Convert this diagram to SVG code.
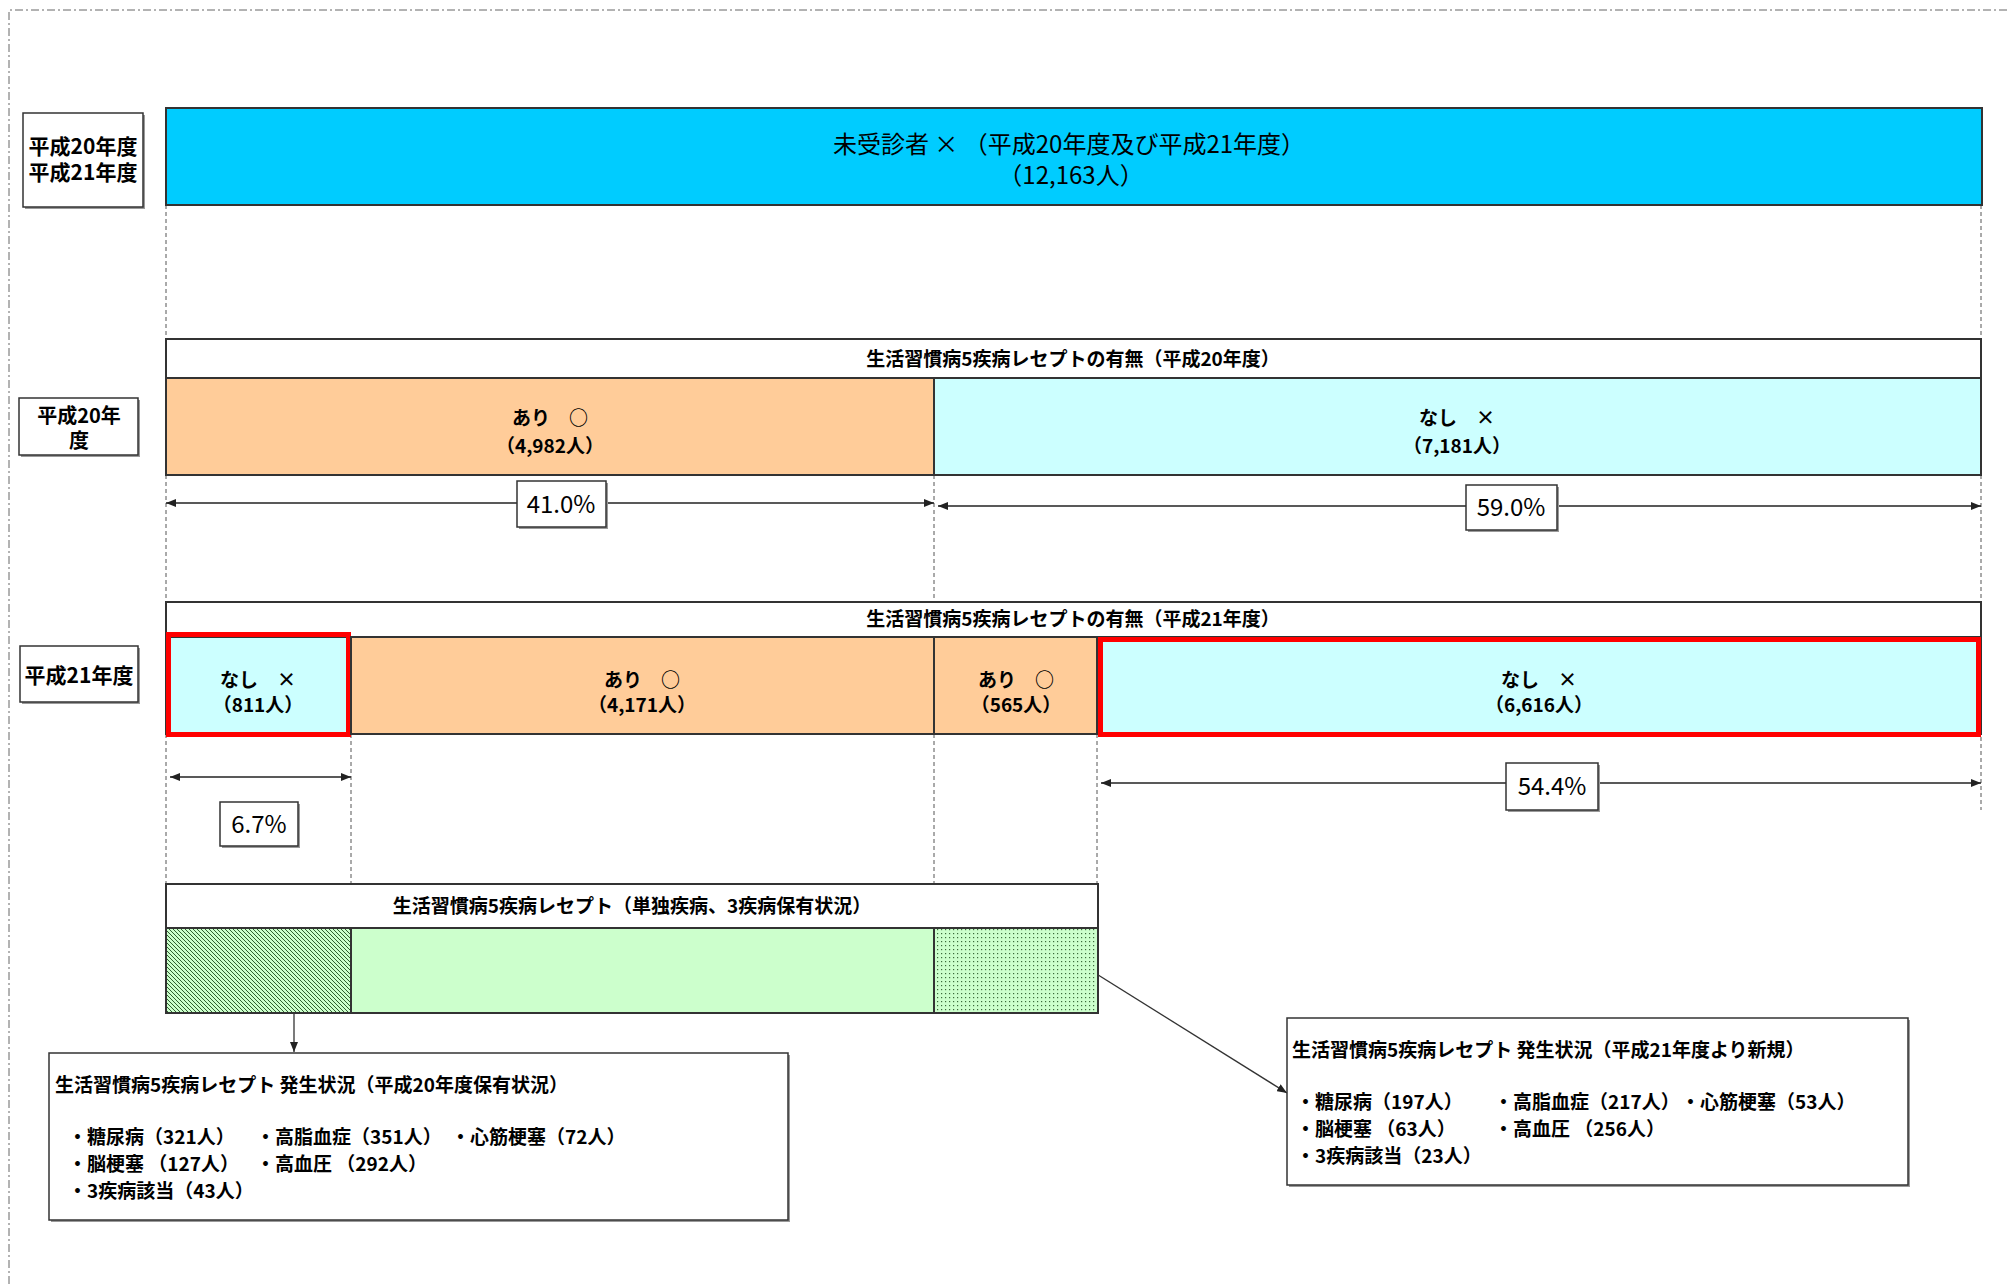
<svg xmlns="http://www.w3.org/2000/svg" width="2008" height="1284" viewBox="0 0 2008 1284">
<defs>
<style>
.t{font-family:"Noto Sans CJK JP","Noto Sans CJK SC",sans-serif;fill:#000}
.b{font-weight:700}
.c{text-anchor:middle}
.bar{stroke:#333;stroke-width:2}
.box{fill:#fff;stroke:#333;stroke-width:1.5}
.sh{fill:#9a9a9a}
.guide{stroke:#555;stroke-width:1;stroke-dasharray:4 3;fill:none}
.dim{stroke:#222;stroke-width:1.5;fill:none;marker-start:url(#ah);marker-end:url(#ah)}
.lead{stroke:#333;stroke-width:1.3;fill:none;marker-end:url(#ah)}
.red{fill:none;stroke:#FF0000;stroke-width:5}
.pct{font-family:"Noto Sans CJK JP","Liberation Sans",sans-serif;font-size:24px;text-anchor:middle}
</style>
<marker id="ah" viewBox="0 0 10 8" refX="10" refY="4" markerWidth="10" markerHeight="8" markerUnits="userSpaceOnUse" orient="auto-start-reverse">
<path d="M0,0 L10,4 L0,8 z" fill="#222"/>
</marker>
<pattern id="hatch" patternUnits="userSpaceOnUse" width="4" height="4">
<rect width="4" height="4" fill="#CCFFCC"/>
<path d="M-1,-1 L5,5 M-1,3 L1,5 M3,-1 L5,1" stroke="#2f5f2f" stroke-width="1"/>
</pattern>
<pattern id="dots" patternUnits="userSpaceOnUse" width="4" height="4">
<rect width="4" height="4" fill="#CCFFCC"/>
<rect x="1" y="1" width="1.2" height="1.2" fill="#3a6a3a"/>
</pattern>
</defs>
<rect width="2008" height="1284" fill="#fff"/>
<path d="M9,1284 L9,10 L2008,10" fill="none" stroke="#666" stroke-width="1" stroke-dasharray="8 3 2 3"/>

<g id="connectors">
<path class="guide" d="M166,205 V339 M1981,205 V339 M166,475 V602 M934,475 V602 M1981,475 V602 M166,734 V884 M351,734 V884 M934,734 V884 M1097,734 V884 M1981,737 V810"/>
<line class="dim" x1="166" y1="503" x2="934" y2="503"/>
<line class="dim" x1="938" y1="506" x2="1981" y2="506"/>
<line class="dim" x1="170" y1="777" x2="351" y2="777"/>
<line class="dim" x1="1101" y1="783" x2="1981" y2="783"/>
<line class="lead" x1="294" y1="967" x2="294" y2="1052"/>
<line class="lead" x1="1071" y1="958" x2="1287" y2="1093"/>
</g>

<g id="label-h20h21">
<rect class="sh" x="25" y="115" width="120" height="94"/>
<rect class="box" x="23" y="113" width="120" height="94"/>
<text class="t b c" font-size="21"><tspan x="83" y="154">平成20年度</tspan><tspan x="83" y="180">平成21年度</tspan></text>
</g>

<g id="unexamined">
<rect class="bar" x="166" y="108" width="1816" height="97" fill="#00CCFF"/>
<text class="t c" font-size="24"><tspan x="1069" y="153">未受診者 × （平成20年度及び平成21年度）</tspan><tspan x="1071" y="184">（12,163人）</tspan></text>
</g>

<g id="label-h20">
<rect class="sh" x="21" y="400" width="119" height="57"/>
<rect class="box" x="19" y="398" width="119" height="57"/>
<text class="t b c" font-size="20"><tspan x="79" y="423">平成20年</tspan><tspan x="79" y="448">度</tspan></text>
</g>

<g id="header-h20">
<rect class="bar" x="166" y="339" width="1815" height="39" fill="#fff"/>
<text class="t b c" x="1073" y="366" font-size="19">生活習慣病5疾病レセプトの有無（平成20年度）</text>
</g>

<g id="h20-ari">
<rect class="bar" x="166" y="378" width="768" height="97" fill="#FFCC99"/>
<text class="t b c" font-size="19"><tspan x="550" y="425">あり　○</tspan><tspan x="550" y="453">（4,982人）</tspan></text>
</g>

<g id="h20-nashi">
<rect class="bar" x="934" y="378" width="1047" height="97" fill="#CCFFFF"/>
<text class="t b c" font-size="19"><tspan x="1457" y="425">なし　×</tspan><tspan x="1457" y="453">（7,181人）</tspan></text>
</g>

<g id="pct-41">
<rect class="sh" x="519" y="483" width="89" height="46"/>
<rect class="box" x="517" y="481" width="89" height="46"/>
<text class="t pct" x="561" y="513">41.0%</text>
</g>

<g id="pct-59">
<rect class="sh" x="1468" y="487" width="91" height="45"/>
<rect class="box" x="1466" y="485" width="91" height="45"/>
<text class="t pct" x="1511" y="516">59.0%</text>
</g>

<g id="label-h21">
<rect class="sh" x="22" y="648" width="118" height="56"/>
<rect class="box" x="20" y="646" width="118" height="56"/>
<text class="t b c" x="79" y="683" font-size="21">平成21年度</text>
</g>

<g id="header-h21">
<rect class="bar" x="166" y="602" width="1815" height="35" fill="#fff"/>
<text class="t b c" x="1073" y="626" font-size="19">生活習慣病5疾病レセプトの有無（平成21年度）</text>
</g>

<g id="h21-nashi-811">
<rect class="bar" x="166" y="637" width="185" height="97" fill="#CCFFFF"/>
<text class="t b c" font-size="19"><tspan x="258" y="687">なし　×</tspan><tspan x="258" y="712">（811人）</tspan></text>
<rect class="red" x="168.5" y="634.5" width="180" height="100"/>
</g>

<g id="h21-ari-4171">
<rect class="bar" x="351" y="637" width="583" height="97" fill="#FFCC99"/>
<text class="t b c" font-size="19"><tspan x="642" y="687">あり　○</tspan><tspan x="642" y="712">（4,171人）</tspan></text>
</g>

<g id="h21-ari-565">
<rect class="bar" x="934" y="637" width="163" height="97" fill="#FFCC99"/>
<text class="t b c" font-size="19"><tspan x="1016" y="687">あり　○</tspan><tspan x="1016" y="712">（565人）</tspan></text>
</g>

<g id="h21-nashi-6616">
<rect class="bar" x="1097" y="637" width="884" height="97" fill="#CCFFFF"/>
<text class="t b c" font-size="19"><tspan x="1539" y="687">なし　×</tspan><tspan x="1539" y="712">（6,616人）</tspan></text>
<rect class="red" x="1100.5" y="639.5" width="878" height="95"/>
</g>

<g id="pct-6-7">
<rect class="sh" x="222" y="804" width="78" height="44"/>
<rect class="box" x="220" y="802" width="78" height="44"/>
<text class="t pct" x="259" y="833">6.7%</text>
</g>

<g id="pct-54-4">
<rect class="sh" x="1508" y="765" width="92" height="47"/>
<rect class="box" x="1506" y="763" width="92" height="47"/>
<text class="t pct" x="1552" y="795">54.4%</text>
</g>

<g id="header-disease">
<rect class="bar" x="166" y="884" width="932" height="44" fill="#fff"/>
<text class="t b c" x="632" y="913" font-size="19">生活習慣病5疾病レセプト（単独疾病、3疾病保有状況）</text>
</g>

<g id="disease-hatched">
<rect class="bar" x="166" y="928" width="185" height="85" fill="url(#hatch)"/>
</g>
<g id="disease-plain">
<rect class="bar" x="351" y="928" width="583" height="85" fill="#CCFFCC"/>
</g>
<g id="disease-dotted">
<rect class="bar" x="934" y="928" width="164" height="85" fill="url(#dots)"/>
</g>

<g id="box-h20-status">
<rect class="sh" x="51" y="1055" width="739" height="167"/>
<rect class="box" x="49" y="1053" width="739" height="167"/>
<text class="t b" font-size="19"><tspan x="55" y="1092">生活習慣病5疾病レセプト 発生状況（平成20年度保有状況）</tspan><tspan x="68" y="1144">・糖尿病（321人）</tspan><tspan x="256" y="1144">・高脂血症（351人）</tspan><tspan x="451" y="1144">・心筋梗塞（72人）</tspan><tspan x="68" y="1171">・脳梗塞 （127人）</tspan><tspan x="256" y="1171">・高血圧 （292人）</tspan><tspan x="68" y="1198">・3疾病該当（43人）</tspan></text>
</g>

<g id="box-h21-new">
<rect class="sh" x="1289" y="1020" width="621" height="167"/>
<rect class="box" x="1287" y="1018" width="621" height="167"/>
<text class="t b" font-size="19"><tspan x="1292" y="1057">生活習慣病5疾病レセプト 発生状況（平成21年度より新規）</tspan><tspan x="1296" y="1109">・糖尿病（197人）</tspan><tspan x="1494" y="1109">・高脂血症（217人）</tspan><tspan x="1681" y="1109">・心筋梗塞（53人）</tspan><tspan x="1296" y="1136">・脳梗塞 （63人）</tspan><tspan x="1494" y="1136">・高血圧 （256人）</tspan><tspan x="1296" y="1163">・3疾病該当（23人）</tspan></text>
</g>
</svg>
